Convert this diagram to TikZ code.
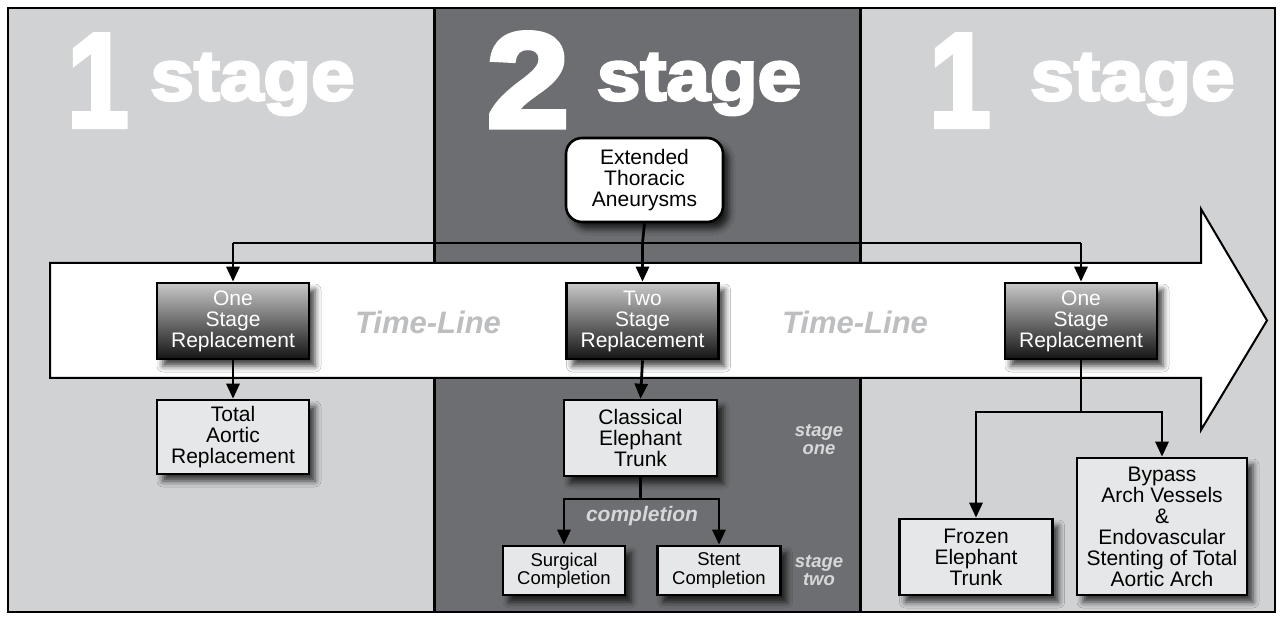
\documentclass[tikz,border=0pt]{standalone}
\usepackage{fontspec}
\setmainfont{Liberation Sans}
\newfontfamily\heavyfont[FakeBold=4,FakeStretch=1.1]{Liberation Sans Bold}
\newfontfamily\digitfont[FakeBold=3,FakeStretch=0.82]{Liberation Sans Bold}
\usetikzlibrary{arrows.meta,shadows.blur}
\definecolor{panellight}{HTML}{D1D2D4}
\definecolor{paneldark}{HTML}{6D6E71}
\definecolor{boxfill}{HTML}{E6E7E8}
\definecolor{tlgray}{HTML}{BCBEC0}
\definecolor{lblgray}{HTML}{D6D7D9}
\definecolor{gtop}{HTML}{C8C8C8}
\definecolor{gbot}{HTML}{141414}
\begin{document}
\begin{tikzpicture}[x=1pt,y=-1pt,
  shadowed/.style={blur shadow={shadow xshift=6pt,shadow yshift=-7pt,shadow blur radius=6pt,shadow opacity=75}},
  bigtext/.style={text=white,inner sep=0pt,anchor=base},
  gbox/.style={draw=black,line width=2.6pt,minimum width=152pt,minimum height=76pt,
    top color=gtop,bottom color=gbot,text=white,align=center,inner sep=0pt,
    font=\fontsize{21}{21}\selectfont,shadowed},
  wbox/.style={draw=black,line width=2.6pt,fill=boxfill,align=center,inner sep=0pt,
    font=\fontsize{21}{21}\selectfont,shadowed},
  sbox/.style={wbox,font=\fontsize{18.5}{18.5}\selectfont},
  con/.style={line width=2.8pt},
  arr/.style={con,-{Triangle[length=15pt,width=13pt]}},
  tline/.style={text=tlgray,inner sep=0pt,anchor=base,font=\fontsize{31}{31}\selectfont\bfseries\itshape},
  slabel/.style={text=lblgray,inner sep=0pt,align=center,font=\fontsize{18.5}{18}\selectfont\bfseries\itshape}
]
\useasboundingbox[fill=white] (0,0) rectangle (1283,620);
% panels
\fill[panellight] (8,8) rectangle (434,612);
\fill[paneldark] (434,8) rectangle (860,612);
\fill[panellight] (860,8) rectangle (1275,612);
\draw[line width=3pt] (434,8) -- (434,612);
\draw[line width=3pt] (860,8) -- (860,612);
\draw[line width=2pt] (8,8) rectangle (1275,612);
% big stage titles
\node[bigtext,font=\digitfont\fontsize{135}{135}\selectfont] (n1a) at (98,127) {1};
\node[bigtext,font=\heavyfont\fontsize{71}{71}\selectfont] (s1a) at (252.5,100) {stage};
\node[bigtext,font=\heavyfont\fontsize{135}{135}\selectfont] (n2) at (528,127) {2};
\node[bigtext,font=\heavyfont\fontsize{71}{71}\selectfont] (s2) at (699,100) {stage};
\node[bigtext,font=\digitfont\fontsize{135}{135}\selectfont] (n1b) at (960,127) {1};
\node[bigtext,font=\heavyfont\fontsize{71}{71}\selectfont] (s1b) at (1132.5,100) {stage};
% time-line arrow
\draw[line width=2pt,fill=white,line join=miter] (50,263) -- (1201,263) -- (1201,209) -- (1267,320.5)
  -- (1201,430) -- (1201,378) -- (50,378) -- cycle;
\node[tline] (tl1) at (428,334) {Time-Line};
\node[tline] (tl2) at (855,334) {Time-Line};
% nodes
\node[wbox,fill=white,rounded corners=16pt,minimum width=157pt,minimum height=84pt] (ext) at (644.5,180) {Extended\\Thoracic\\Aneurysms};
\node[gbox] (g1) at (233,321) {One\\Stage\\Replacement};
\node[gbox] (g2) at (642.5,321) {Two\\Stage\\Replacement};
\node[gbox] (g3) at (1081,321) {One\\Stage\\Replacement};
\node[wbox,minimum width=152pt,minimum height=74pt] (tot) at (233,437) {Total\\Aortic\\Replacement};
\node[wbox,minimum width=153pt,minimum height=76pt] (cla) at (640.5,438) {Classical\\Elephant\\Trunk};
\node[sbox,minimum width=122pt,minimum height=49pt] (sur) at (564,570.5) {Surgical\\Completion};
\node[sbox,minimum width=123pt,minimum height=49pt] (ste) at (719,570.5) {Stent\\Completion};
\node[wbox,minimum width=153pt,minimum height=76pt] (fro) at (976,557) {Frozen\\Elephant\\Trunk};
\node[wbox,minimum width=170pt,minimum height=137pt] (byp) at (1162,526.5) {Bypass\\Arch Vessels\\\&\\Endovascular\\Stenting of Total\\Aortic Arch};
% labels
\node[slabel,font=\fontsize{21}{21}\selectfont\bfseries\itshape] (comp) at (642,516) {completion};
\node[slabel] (st1) at (819,440) {stage\\one};
\node[slabel] (st2) at (819,570.5) {stage\\two};
% connectors
\coordinate (bus) at (642.5,243);
\coordinate (split2) at (640.5,499);
\coordinate (split3) at (1081,412);
\draw[con] (ext.south) -- (bus);
\draw[con] (bus -| g1) -- (bus -| g3);
\draw[arr] (bus -| g1) -- (g1.north);
\draw[arr] (bus) -- (g2.north);
\draw[arr] (bus -| g3) -- (g3.north);
\draw[arr] (g1.south) -- (tot.north);
\draw[arr] (g2.south) -- (cla.north);
\draw[con] (cla.south) -- (split2);
\draw[arr] (split2) -| (sur.north);
\draw[arr] (split2) -| (ste.north);
\draw[con] (g3.south) -- (split3);
\draw[arr] (split3) -| (fro.north);
\draw[arr] (split3) -| (byp.north);
\end{tikzpicture}
\end{document}
